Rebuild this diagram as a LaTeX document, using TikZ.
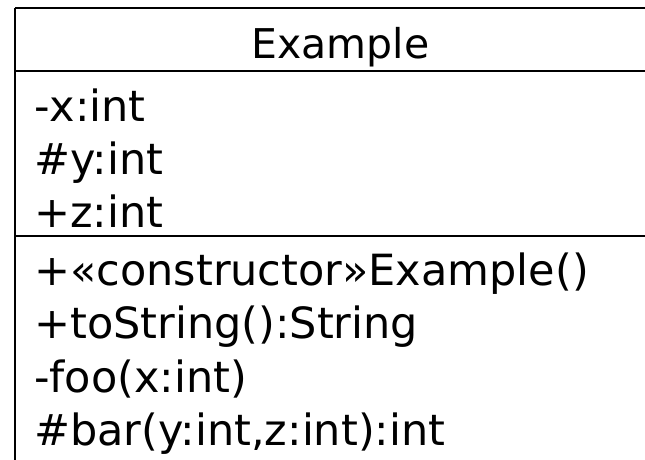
\documentclass[tikz,border=0pt]{standalone}
\usepackage{fontspec}
\setmainfont{DejaVu Sans}
\usetikzlibrary{positioning}

\begin{document}
\begin{tikzpicture}[x=1pt, y=-1pt,
    member/.style={anchor=base west, inner sep=0pt, font=\fontsize{43}{50}\selectfont},
    title/.style={anchor=base, inner sep=0pt, font=\fontsize{41}{50}\selectfont}]
      \useasboundingbox (0,0) rectangle (645,460);
      \clip (0,0) rectangle (645,460);

      % class box, cut off at right and bottom
      \draw[line width=1.8pt] (15,8) -- (680,8);
      \draw[line width=1.8pt] (15,8) -- (15,500);
      \draw[line width=1.8pt] (15,71) -- (680,71);
      \draw[line width=1.8pt] (15,236) -- (680,236);

      \node[title] (name) at (340.5,59) {Example};

      \node[member] (attrx) at (34,121) {-x:int};
      \node[member] (attry) at (34,174) {\#y:int};
      \node[member] (attrz) at (34,227.5) {+z:int};

      \node[member] (ctor) at (34,285) {+«constructor»Example()};
      \node[member] (tostr) at (34,338.5) {+toString():String};
      \node[member] (foo) at (34,392) {-foo(x:int)};
      \node[member] (bar) at (34,445.5) {\#bar(y:int,z:int):int};

\end{tikzpicture}
\end{document}
